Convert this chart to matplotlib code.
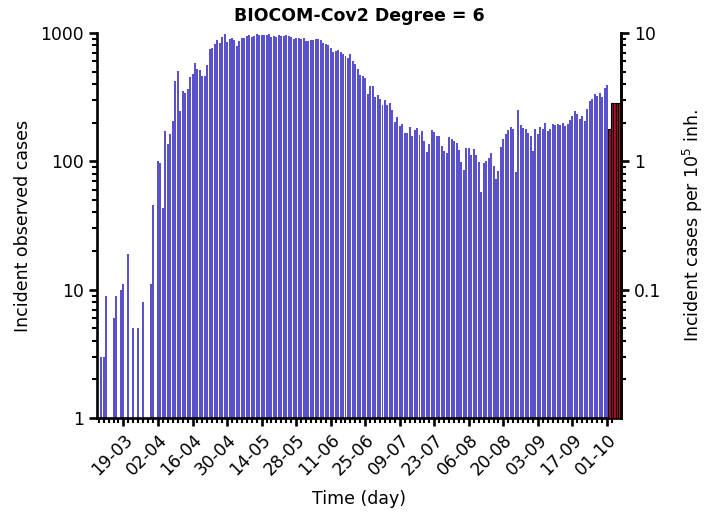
import numpy as np
import pandas as pd
import matplotlib
matplotlib.use("Agg")
import matplotlib.pyplot as plt
import matplotlib.dates as mdates
from matplotlib.ticker import FixedLocator, NullFormatter, LogLocator

# ---- data ----
start_date = "2020-03-10"
observed = [
    3, 3, 9, 0, 0, 6, 9, 0, 10, 11,
    0, 19, 0, 5, 0, 5, 0, 8, 0, 0,
    11, 46, 0, 100, 97, 43, 171, 136, 163, 206,
    423, 503, 247, 353, 341, 366, 452, 477, 581, 525,
    515, 462, 462, 566, 747, 760, 821, 883, 840, 926,
    977, 855, 898, 919, 883, 792, 867, 910, 919, 947,
    965, 931, 947, 983, 965, 960, 970, 965, 983, 935,
    947, 935, 960, 947, 953, 965, 953, 935, 904, 915,
    915, 898, 915, 861, 871, 876, 876, 898, 898, 883,
    840, 821, 811, 760, 715, 727, 741, 715, 690, 665,
    635, 682, 605, 570, 524, 471, 460, 444, 335, 387,
    387, 319, 329, 306, 275, 301, 275, 285, 250, 201,
    222, 190, 194, 165, 167, 184, 157, 175, 181, 160,
    173, 144, 119, 136, 175, 168, 158, 157, 131, 120,
    116, 154, 148, 144, 140, 122, 99, 85, 126, 128,
    112, 125, 113, 98, 58, 97, 101, 106, 117, 92,
    73, 84, 129, 149, 163, 176, 184, 179, 83, 250,
    192, 182, 179, 165, 157, 120, 180, 163, 184, 179,
    198, 172, 179, 195, 192, 194, 193, 199, 190, 194,
    211, 226, 247, 233, 214, 227, 206, 254, 294, 308,
    333, 323, 339, 319, 375, 391,
]
forecast = [179, 284, 284, 283, 283]
major_tick_labels = ["19-03", "02-04", "16-04", "30-04", "14-05", "28-05", "11-06",
                     "25-06", "09-07", "23-07", "06-08", "20-08", "03-09", "17-09", "01-10"]
population_factor = 100.0  # 1000 observed cases <-> 10 per 1e5 inh.

obs_dates = pd.date_range(start_date, periods=len(observed), freq="D")
fc_dates = pd.date_range(obs_dates[-1] + pd.Timedelta(days=1), periods=len(forecast), freq="D")

obs = np.array(observed, dtype=float)
mask = obs > 0
x_obs = mdates.date2num(obs_dates.to_pydatetime())
x_fc = mdates.date2num(fc_dates.to_pydatetime())

fig = plt.figure(figsize=(7.09, 5.16), dpi=100)
ax = fig.add_axes([0.137, 0.19, 0.739, 0.746])

ax.bar(x_obs[mask], obs[mask], width=0.8, color="#5A52CC", linewidth=0, zorder=2)
ax.bar(x_fc, forecast, width=1.0, color="#B0102A", edgecolor="black", linewidth=0.8, zorder=3)

ax.set_yscale("log")
ax.set_ylim(1, 1000)
ax.set_yticks([1, 10, 100, 1000])
ax.set_yticklabels(["1", "10", "100", "1000"])
ax.yaxis.set_minor_locator(LogLocator(base=10, subs=np.arange(2, 10)))
ax.yaxis.set_minor_formatter(NullFormatter())

x_left = x_obs[0] - 1.66
x_right = x_obs[0] + 210.7
ax.set_xlim(x_left, x_right)

first_major = mdates.date2num(pd.Timestamp("2020-03-19").to_pydatetime())
majors = [first_major + 14 * k for k in range(len(major_tick_labels))]
minors = [first_major + 2 * k for k in range(-5, 100) if x_left <= first_major + 2 * k <= x_right]
ax.xaxis.set_major_locator(FixedLocator(majors))
ax.xaxis.set_minor_locator(FixedLocator(minors))
ax.set_xticklabels(major_tick_labels, rotation=45, ha="right", rotation_mode="anchor", fontsize=12.3)

for s in ["left", "bottom", "right"]:
    ax.spines[s].set_linewidth(1.9)
ax.spines["top"].set_visible(False)
ax.tick_params(which="major", length=6, width=1.9, labelsize=12.3)
ax.tick_params(which="minor", length=3.5, width=1.5)

ax.set_xlabel("Time (day)", fontsize=12.5, labelpad=8)
ax.set_ylabel("Incident observed cases", fontsize=12.5, labelpad=6)
ax.set_title("BIOCOM-Cov2 Degree = 6", fontsize=12.5, fontweight="bold", pad=9)

ax2 = ax.twinx()
ax2.set_yscale("log")
ax2.set_ylim(1 / population_factor, 1000 / population_factor)
ax2.set_yticks([0.1, 1, 10])
ax2.set_yticklabels(["0.1", "1", "10"])
ax2.yaxis.set_minor_locator(LogLocator(base=10, subs=np.arange(2, 10)))
ax2.yaxis.set_minor_formatter(NullFormatter())
for s in ["left", "bottom", "top"]:
    ax2.spines[s].set_visible(False)
ax2.spines["right"].set_linewidth(1.9)
ax2.tick_params(which="major", length=6, width=1.9, labelsize=12.3)
ax2.tick_params(which="minor", length=3.5, width=1.5)
ax2.set_ylabel("Incident cases per 10$^5$ inh.", fontsize=12.5, labelpad=14)

fig.savefig("out.png", dpi=100)
